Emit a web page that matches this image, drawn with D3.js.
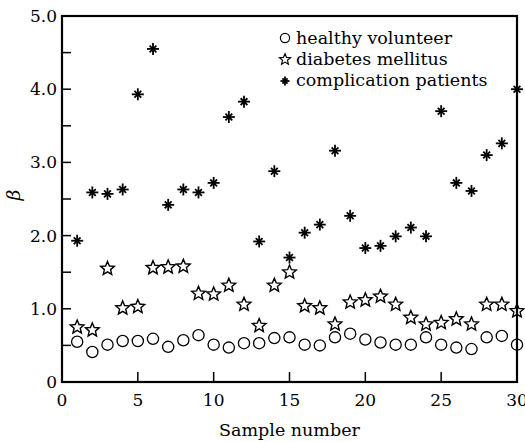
<!DOCTYPE html>
<html><head><meta charset="utf-8">
<script src="https://cdn.jsdelivr.net/npm/d3@7"></script>
</head><body style="margin:0;background:#fff">
<svg id="c" width="525" height="442" style="display:block"></svg>
<script>
const samples = d3.range(1, 31);
const healthy = [0.55,0.41,0.51,0.56,0.56,0.59,0.48,0.57,0.64,0.51,0.47,0.53,0.53,0.60,0.61,0.51,0.50,0.61,0.66,0.58,0.54,0.51,0.51,0.61,0.51,0.47,0.45,0.61,0.63,0.51];
const diabetes = [0.76,0.72,1.56,1.02,1.04,1.57,1.58,1.59,1.22,1.21,1.33,1.07,0.78,1.33,1.51,1.05,1.02,0.80,1.10,1.13,1.18,1.07,0.89,0.80,0.82,0.87,0.80,1.07,1.07,0.98];
const complication = [1.93,2.59,2.57,2.63,3.93,4.55,2.42,2.63,2.59,2.72,3.62,3.83,1.92,2.88,1.70,2.04,2.15,3.16,2.27,1.83,1.86,1.99,2.11,1.99,3.70,2.72,2.61,3.10,3.26,4.00];
const xTicks = [0,5,10,15,20,25,30];
const yTicks = [0,1,2,3,4,5];
const yTickLabels = ["0","1.0","2.0","3.0","4.0","5.0"];
const legendLabels = ["healthy volunteer","diabetes mellitus","complication patients"];

const FONT = "DejaVu Serif";
const svg = d3.select("#c");
const L=62, R=517, T=16, B=382;
const x = d3.scaleLinear().domain([0,30]).range([L,R]);
const y = d3.scaleLinear().domain([0,5]).range([B,T]);

function addText(parent, t, px, py, size, anchor){
  return parent.append("text").attr("x",px).attr("y",py).attr("text-anchor",anchor)
    .style("font-family",FONT).style("font-size",size+"px").attr("fill","#000").text(t);
}

// ticks (drawn from scales)
const tickG = svg.append("g");
xTicks.forEach(v=>{
  tickG.append("line").attr("x1",x(v)).attr("x2",x(v)).attr("y1",B).attr("y2",B-10).attr("stroke","#000").attr("stroke-width",1.5);
  addText(svg, String(v), x(v), B+24, 17, "middle");
});
d3.range(0,5.01,0.5).forEach(v=>{
  tickG.append("line").attr("x1",L).attr("x2",L+9).attr("y1",y(v)).attr("y2",y(v)).attr("stroke","#000").attr("stroke-width",1.5);
});
yTicks.forEach((v,i)=>addText(svg, yTickLabels[i], L-5, y(v)+6, 17, "end"));

svg.append("rect").attr("x",L).attr("y",T).attr("width",R-L).attr("height",B-T)
  .attr("fill","none").attr("stroke","#000").attr("stroke-width",2.2);

addText(svg, "Sample number", (L+R)/2, 436, 17.5, "middle");
svg.append("text").attr("transform",`translate(20,${(T+B)/2-4}) rotate(-90)`).attr("text-anchor","middle")
  .style("font-family",FONT).style("font-style","italic").style("font-size","19px").text("β");

const starPath = (r) => {
  const pts=[]; for(let k=0;k<10;k++){const a=-Math.PI/2+k*Math.PI/5; const rr=k%2?r*0.45:r; pts.push([rr*Math.cos(a),rr*Math.sin(a)]);}
  return "M"+pts.map(p=>p.join(",")).join("L")+"Z";
};
function asterisk(g, s){
  const arms=[[0,1,s],[1,0,s],[0.707,0.707,s*0.8],[0.707,-0.707,s*0.8]];
  arms.forEach(a=>g.append("line").attr("x1",-a[0]*a[2]).attr("y1",-a[1]*a[2]).attr("x2",a[0]*a[2]).attr("y2",a[1]*a[2])
    .attr("stroke","#000").attr("stroke-width",1.8));
  g.append("circle").attr("r",s*0.35).attr("fill","#000");
}

const plot = svg.append("g");
plot.selectAll("circle.h").data(samples).enter().append("circle").attr("class","h")
  .attr("cx",d=>x(d)).attr("cy",(d,i)=>y(healthy[i])).attr("r",5.6)
  .attr("fill","none").attr("stroke","#000").attr("stroke-width",1.3);
plot.selectAll("path.d").data(samples).enter().append("path").attr("class","d")
  .attr("transform",(d,i)=>`translate(${x(d)},${y(diabetes[i])+0.8})`).attr("d",starPath(7.2))
  .attr("fill","none").attr("stroke","#000").attr("stroke-width",1.4).attr("stroke-linejoin","miter");
plot.selectAll("g.c").data(samples).enter().append("g").attr("class","c")
  .attr("transform",(d,i)=>`translate(${x(d)},${y(complication[i])})`)
  .each(function(){ asterisk(d3.select(this),6); });

const lg = svg.append("g");
const ly = [38,59,80];
lg.append("circle").attr("cx",285).attr("cy",ly[0]).attr("r",4.6).attr("fill","none").attr("stroke","#000").attr("stroke-width",1.2);
lg.append("path").attr("transform",`translate(285,${ly[1]+0.5})`).attr("d",starPath(5.8)).attr("fill","none").attr("stroke","#000").attr("stroke-width",1.2);
asterisk(lg.append("g").attr("transform",`translate(285,${ly[2]+1})`),4.5);
legendLabels.forEach((t,i)=>addText(lg, t, 296, ly[i]+6, 17.5, "start"));
</script>
</body></html>
